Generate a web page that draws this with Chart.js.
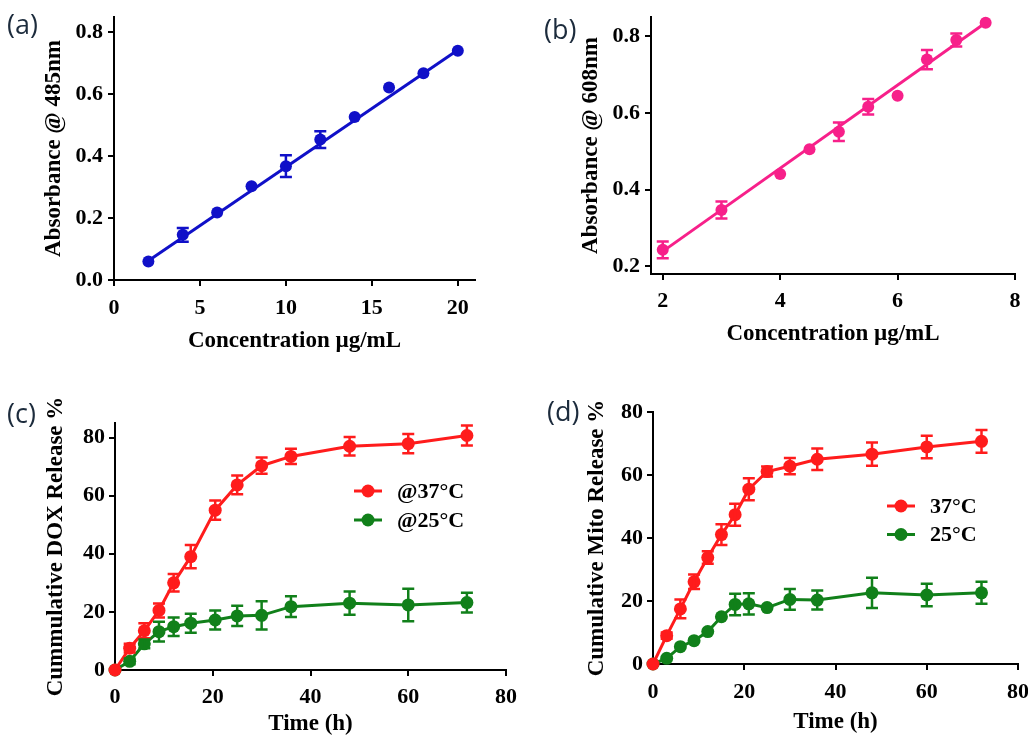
<!DOCTYPE html>
<html>
<head>
<meta charset="utf-8">
<script src="https://cdn.jsdelivr.net/npm/chart.js@4.4.0/dist/chart.umd.min.js"></script>
<style>
  html, body { margin: 0; padding: 0; background: #fff; }
  #wrap { position: relative; width: 1028px; height: 737px; overflow: hidden; }
  canvas { position: absolute; }
  .tag { position: absolute; font-family: "Open Sans", sans-serif; font-size: 27px; line-height: 1; color: #1c2b3c; }
</style>
</head>
<body>
<div id="wrap">
  <canvas id="ca" width="514" height="365" style="left:0;top:0"></canvas>
  <canvas id="cb" width="514" height="365" style="left:514px;top:0"></canvas>
  <canvas id="cc" width="530" height="372" style="left:0;top:365px"></canvas>
  <canvas id="cd" width="514" height="372" style="left:514px;top:365px"></canvas>
  <div class="tag" style="left:7px;top:10px">(a)</div>
  <div class="tag" style="left:544px;top:15px">(b)</div>
  <div class="tag" style="left:7px;top:399px">(c)</div>
  <div class="tag" style="left:547px;top:397px">(d)</div>
</div>
<script>
// --- data ---
// (a) calibration @485nm
const concA = [2, 4, 6, 8, 10, 12, 14, 16, 18, 20];
const absA  = [0.06, 0.146, 0.218, 0.303, 0.368, 0.454, 0.527, 0.622, 0.668, 0.741];
const errA  = [0, 0.022, 0, 0, 0.035, 0.027, 0, 0, 0, 0];
const fitAX = [2, 20];
const fitAY = [0.062, 0.743];
const ticksAX = [0, 5, 10, 15, 20];
const ticksAY = [0, 0.2, 0.4, 0.6, 0.8];

// (b) calibration @608nm
const concB = [2, 3, 4, 4.5, 5, 5.5, 6, 6.5, 7, 7.5];
const absB  = [0.243, 0.347, 0.441, 0.505, 0.551, 0.616, 0.645, 0.739, 0.79, 0.835];
const errB  = [0.022, 0.022, 0, 0, 0.024, 0.02, 0, 0.025, 0.017, 0];
const fitBX = [2, 7.5];
const fitBY = [0.239, 0.835];
const ticksBX = [2, 4, 6, 8];
const ticksBY = [0.2, 0.4, 0.6, 0.8];

// (c) DOX release
const timeC = [0, 3, 6, 9, 12, 15.5, 20.5, 25, 30, 36, 48, 60, 72];
const dox37 = [0, 7.5, 13.5, 20.5, 30, 39, 55, 63.7, 70.3, 73.5, 77, 77.9, 80.7];
const dox37Err = [0, 1.5, 2.6, 2.4, 3, 4, 3.3, 3.2, 2.8, 2.6, 3.2, 3.3, 3.4];
const dox25 = [0, 3, 9, 13.2, 14.9, 16.1, 17.2, 18.6, 18.8, 21.8, 23, 22.4, 23.2];
const dox25Err = [0, 1, 1.5, 3.4, 3.2, 3.3, 3.3, 3.5, 4.9, 3.6, 4, 5.6, 3.4];

// (d) Mito release
const timeD = [0, 3, 6, 9, 12, 15, 18, 21, 25, 30, 36, 48, 60, 72];
const mito37 = [0, 9, 17.5, 26.1, 33.8, 41.1, 47.4, 55.5, 61.1, 62.8, 65, 66.6, 68.9, 70.7];
const mito37Err = [0, 1, 3, 2.3, 2, 3.3, 3.5, 3.5, 1.6, 2.6, 3.4, 3.7, 3.6, 3.6];
const mito25 = [0, 1.8, 5.5, 7.4, 10.3, 15, 18.9, 19.1, 17.9, 20.5, 20.3, 22.6, 21.9, 22.6];
const mito25Err = [0, 0, 0, 0, 0, 0, 3.4, 3.4, 0, 3.3, 3, 4.8, 3.6, 3.5];

const ticksTX = [0, 20, 40, 60, 80];
const ticksTY = [0, 20, 40, 60, 80];

const BLUE = '#1010c8', PINK = '#f7208a', RED = '#ff1c1c', GREEN = '#11801a';
const SERIF = '"Liberation Serif", "Times New Roman", serif';

Chart.defaults.font.family = SERIF;
Chart.defaults.font.weight = 'bold';
Chart.defaults.color = '#000';

const pts = (xs, ys) => xs.map((x, i) => ({ x, y: ys[i] }));

// error bars with caps, drawn through the chart's scales
const errorBars = {
  id: 'errorBars',
  afterDatasetsDraw(chart) {
    const { ctx, scales: { x, y } } = chart;
    chart.data.datasets.forEach(ds => {
      if (!ds.errors) return;
      ctx.save();
      ctx.strokeStyle = ds.borderColor;
      ctx.lineWidth = 2.5;
      ds.data.forEach((p, j) => {
        const e = ds.errors[j];
        if (!e) return;
        const px = x.getPixelForValue(p.x);
        const lo = y.getPixelForValue(p.y - e), hi = y.getPixelForValue(p.y + e);
        ctx.beginPath();
        ctx.moveTo(px, lo); ctx.lineTo(px, hi);
        ctx.moveTo(px - 6, lo); ctx.lineTo(px + 6, lo);
        ctx.moveTo(px - 6, hi); ctx.lineTo(px + 6, hi);
        ctx.stroke();
      });
      ctx.restore();
    });
  }
};

// small line+dot legend inside the plot
const inLegend = {
  id: 'inLegend',
  afterDraw(chart, args, opts) {
    if (!opts || opts.x == null) return;
    const ctx = chart.ctx;
    let yy = opts.y;
    chart.data.datasets.forEach(ds => {
      if (!ds.label) return;
      ctx.save();
      ctx.strokeStyle = ds.borderColor;
      ctx.fillStyle = ds.borderColor;
      ctx.lineWidth = 3;
      ctx.beginPath();
      ctx.moveTo(opts.x, yy); ctx.lineTo(opts.x + 28, yy);
      ctx.stroke();
      ctx.beginPath();
      ctx.arc(opts.x + 14, yy, 6.5, 0, Math.PI * 2);
      ctx.fill();
      ctx.fillStyle = '#000';
      ctx.font = 'bold 22px ' + SERIF;
      ctx.textBaseline = 'middle';
      ctx.fillText(ds.label, opts.x + 43, yy + 1);
      ctx.restore();
      yy += opts.gap;
    });
  }
};

function axis(opts) {
  return {
    type: 'linear',
    min: opts.min, max: opts.max,
    afterBuildTicks: s => { s.ticks = opts.ticks.map(v => ({ value: v })); },
    afterFit: s => {
      if (opts.w != null) s.width = opts.w;
      if (opts.h != null) s.height = opts.h;
      s.paddingLeft = s.paddingRight = s.paddingTop = s.paddingBottom = 0;
    },
    ticks: {
      font: { size: 22, weight: 'bold' },
      padding: opts.tpad,
      color: '#000',
      callback: opts.fmt || (v => v)
    },
    grid: { drawOnChartArea: false, drawTicks: true, tickLength: 6, color: '#000', lineWidth: 2 },
    border: { display: true, color: '#000', width: 2 },
    title: {
      display: true,
      text: opts.title,
      color: '#000',
      font: { size: 23, weight: 'bold', lineHeight: 1 },
      padding: opts.titlePad
    }
  };
}

function makeChart(id, cfg) {
  new Chart(document.getElementById(id), {
    type: 'line',
    data: { datasets: cfg.datasets },
    options: {
      responsive: false,
      animation: false,
      layout: { padding: cfg.pad },
      plugins: { legend: { display: false }, tooltip: { enabled: false }, inLegend: cfg.legend || {} },
      scales: { x: cfg.x, y: cfg.y }
    },
    plugins: [errorBars, inLegend]
  });
}

function fitSet(xs, ys, color) {
  return { data: pts(xs, ys), borderColor: color, borderWidth: 3, pointRadius: 0, clip: false, order: 2 };
}
function dotSet(xs, ys, errs, color, label, r) {
  return {
    label, data: pts(xs, ys), errors: errs,
    borderColor: color, backgroundColor: color, borderWidth: 3,
    pointRadius: r, pointBorderWidth: 0, pointBackgroundColor: color,
    showLine: !!label, clip: false, order: 1
  };
}

// (a)
makeChart('ca', {
  pad: { left: 0, top: 17, right: 39, bottom: 0 },
  datasets: [fitSet(fitAX, fitAY, BLUE), dotSet(concA, absA, errA, BLUE, '', 6)],
  x: axis({ min: 0, max: 21, ticks: ticksAX, h: 85, tpad: 9, title: 'Concentration \u00b5g/mL', titlePad: { top: 0, bottom: 12.5 } }),
  y: axis({ min: 0, max: 0.85, ticks: ticksAY, w: 114, tpad: 5, fmt: v => v.toFixed(1), title: 'Absorbance @ 485nm', titlePad: { top: 42.5, bottom: 0 } })
});

// (b)
makeChart('cb', {
  pad: { left: 0, top: 17, right: 13, bottom: 0 },
  datasets: [fitSet(fitBX, fitBY, PINK), dotSet(concB, absB, errB, PINK, '', 6)],
  x: axis({ min: 1.8, max: 8, ticks: ticksBX, h: 91, tpad: 8, title: 'Concentration \u00b5g/mL', titlePad: { top: 0, bottom: 19.5 } }),
  y: axis({ min: 0.18, max: 0.85, ticks: ticksBY, w: 137, tpad: 5, fmt: v => v.toFixed(1), title: 'Absorbance @ 608nm', titlePad: { top: 65.5, bottom: 0 } })
});

// (c)
makeChart('cc', {
  pad: { left: 0, top: 58, right: 24, bottom: 0 },
  datasets: [
    dotSet(timeC, dox37, dox37Err, RED, '@37\u00b0C', 6.5),
    dotSet(timeC, dox25, dox25Err, GREEN, '@25\u00b0C', 6.5)
  ],
  legend: { x: 354, y: 126, gap: 29 },
  x: axis({ min: 0, max: 80, ticks: ticksTX, h: 67, tpad: 8, title: 'Time (h)', titlePad: { top: 0, bottom: 1.5 } }),
  y: axis({ min: 0, max: 85, ticks: ticksTY, w: 115, tpad: 4, title: 'Cummulative DOX Release %', titlePad: { top: 45, bottom: 0 } })
});

// (d)
makeChart('cd', {
  pad: { left: 0, top: 47, right: 10, bottom: 0 },
  datasets: [
    dotSet(timeD, mito37, mito37Err, RED, '37\u00b0C', 6.5),
    dotSet(timeD, mito25, mito25Err, GREEN, '25\u00b0C', 6.5)
  ],
  legend: { x: 373, y: 141, gap: 28.5 },
  x: axis({ min: 0, max: 80, ticks: ticksTX, h: 73, tpad: 9, title: 'Time (h)', titlePad: { top: 0, bottom: 3.5 } }),
  y: axis({ min: 0, max: 80, ticks: ticksTY, w: 139, tpad: 4, title: 'Cumulative Mito Release %', titlePad: { top: 72, bottom: 0 } })
});
</script>
</body>
</html>
